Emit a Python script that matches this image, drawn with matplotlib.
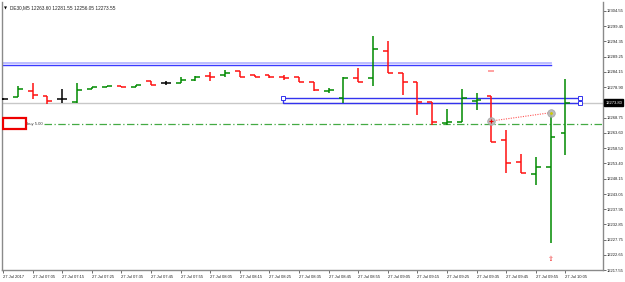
import matplotlib
matplotlib.use("Agg")
import matplotlib.pyplot as plt
from matplotlib.patches import Rectangle
from matplotlib.transforms import blended_transform_factory

# ---------------- data ----------------
times = ["06:55", "07:00", "07:05", "07:10", "07:15", "07:20", "07:25", "07:30", "07:35", "07:40",
         "07:45", "07:50", "07:55", "08:00", "08:05", "08:10", "08:15", "08:20", "08:25", "08:30",
         "08:35", "08:40", "08:45", "08:50", "08:55", "09:00", "09:05", "09:10", "09:15", "09:20",
         "09:25", "09:30", "09:35", "09:40", "09:45", "09:50", "09:55", "10:00", "10:05"]
opens = [12274.89, 12275.56, 12277.78, 12276.00, 12274.89, 12274.08, 12278.25, 12278.92, 12279.36, 12279.12,
         12280.94, 12280.37, 12280.26, 12281.37, 12282.72, 12283.05, 12284.50, 12283.05, 12283.05, 12282.48,
         12282.28, 12280.70, 12277.78, 12275.23, 12282.15, 12281.94, 12291.21, 12283.82, 12280.60, 12273.88,
         12267.03, 12267.37, 12274.42, 12276.00, 12261.22, 12253.93, 12249.80, 12252.25, 12263.60]
highs = [12275.30, 12279.36, 12280.47, 12276.00, 12278.25, 12280.26, 12279.12, 12279.36, 12279.36, 12279.59,
         12280.94, 12281.14, 12282.28, 12282.72, 12284.16, 12284.73, 12284.50, 12283.05, 12283.05, 12283.05,
         12282.28, 12280.70, 12278.58, 12282.48, 12285.30, 12296.15, 12294.47, 12283.82, 12280.60, 12274.08,
         12271.53, 12278.25, 12277.00, 12276.00, 12264.58, 12256.41, 12255.61, 12270.39, 12281.55]
lows = [12274.50, 12275.56, 12274.89, 12273.31, 12273.75, 12273.75, 12278.25, 12278.92, 12278.92, 12279.12,
        12279.69, 12279.59, 12280.26, 12281.14, 12281.14, 12282.48, 12282.28, 12282.48, 12281.94, 12281.37,
        12280.70, 12277.78, 12276.91, 12273.55, 12280.80, 12279.36, 12283.82, 12276.33, 12269.62, 12266.26,
        12266.26, 12267.37, 12271.30, 12260.65, 12250.23, 12250.23, 12246.10, 12226.52, 12256.05]
closes = [12274.89, 12278.25, 12276.33, 12274.42, 12274.89, 12278.01, 12279.12, 12279.36, 12278.92, 12279.59,
          12279.69, 12280.37, 12281.37, 12282.28, 12282.48, 12283.62, 12282.28, 12282.48, 12282.28, 12281.94,
          12280.70, 12278.01, 12277.91, 12281.94, 12280.80, 12291.79, 12283.82, 12280.60, 12273.88, 12267.37,
          12267.16, 12275.23, 12274.65, 12260.65, 12253.59, 12250.23, 12252.05, 12262.33, 12273.55]

price_ticks = [12304.55, 12299.45, 12294.35, 12289.25, 12284.15, 12278.90, 12268.75, 12263.60,
               12258.50, 12253.40, 12248.15, 12243.05, 12237.95, 12232.85, 12227.75, 12222.65, 12217.55]
bid_price = 12273.80
symbol_header = "DE30,M5 12263.60 12281.55 12256.05 12273.55"

buy_line_price = 12266.49
buy_label = "buy 5.00"
zone1_top, zone1_bottom, zone1_end = 12287.08, 12286.31, 37.0
zone2_top, zone2_bottom, zone2_start, zone2_end = 12275.43, 12273.55, 18.9, 39.0
trade_idx = [33, 37]
trade_prices = [12267.60, 12270.39]
marker_pink = (33, 12284.50)
arrow_up = (37, 12221.15)

# ---------------- figure ----------------
W, H = 625, 282
fig = plt.figure(figsize=(W / 100, H / 100), dpi=100)
fig.patch.set_facecolor("white")
L, R, T, B = 2, 603, 2, 270
ax = fig.add_axes([L / W, 1 - B / H, (R - L) / W, (B - T) / H])
ax.set_facecolor("white")

FONT = ["Liberation Sans", "DejaVu Sans"]
FS = 3.0

n = len(times)
w = 0.33
for i in range(n):
    o, h, l, c = opens[i], highs[i], lows[i], closes[i]
    if c > o:
        col = "#008a00"
    elif c < o:
        col = "#ff1010"
    else:
        col = "#000000"
    ax.plot([i, i], [l, h], color=col, lw=1.1, solid_capstyle="butt", zorder=3)
    ax.plot([i - w, i], [o, o], color=col, lw=1.1, solid_capstyle="butt", zorder=3)
    ax.plot([i, i + w], [c, c], color=col, lw=1.1, solid_capstyle="butt", zorder=3)

xmin, xmax = -0.07, 40.54
ax.set_xlim(xmin, xmax)
ax.set_ylim(12217.55, 12307.57)

# bid line
ax.axhline(bid_price, color="#c8c8c8", lw=1.0, zorder=1)

# zone 1 (double blue line)
ax.plot([xmin, zone1_end], [zone1_top, zone1_top], color="#b8b8ff", lw=1.3, zorder=2)
ax.plot([xmin, zone1_end], [zone1_bottom, zone1_bottom], color="#3a3aff", lw=1.0, zorder=2)

# zone 2 rectangle
ax.add_patch(Rectangle((zone2_start, zone2_bottom), zone2_end - zone2_start, zone2_top - zone2_bottom,
                       fill=False, edgecolor="#3333ee", lw=1.0, zorder=2))
for xx in (zone2_start, zone2_end):
    ax.plot([xx], [zone2_top], marker="s", ms=2.2, mfc="white", mec="#3333ee", mew=0.7, zorder=4)
ax.plot([zone2_end], [zone2_bottom], marker="s", ms=2.2, mfc="white", mec="#3333ee", mew=0.7, zorder=4)

# buy line
ax.plot([2.75, xmax], [buy_line_price, buy_line_price], color="#44aa44", lw=0.9,
        linestyle=(0, (6, 2, 1, 2)), zorder=2)
ax.text(1.62, buy_line_price, buy_label, fontsize=FS, family=FONT, color="#333333",
        va="center", ha="left", zorder=5)
ax.add_patch(Rectangle((0.02, 12304.55 - (129.3 - 11) / 2.977), 1.5, 11 / 2.977,
                       facecolor="white", edgecolor="#ee0000", lw=1.6, zorder=6))

# trade history
ax.plot(trade_idx, trade_prices, color="#ff5555", lw=0.8, linestyle=(0, (1, 1.2)), zorder=4)
ax.plot(trade_idx, trade_prices, linestyle="none", marker="o", ms=5.5, mfc="#b4b4b4",
        mec="#a0a0a0", mew=0.5, zorder=5, alpha=0.9)
ax.plot([trade_idx[0]], [trade_prices[0]], marker="+", ms=2.5, color="#ee0000", mew=0.8, zorder=6)
ax.plot([trade_idx[1]], [trade_prices[1]], marker=".", ms=2, color="#cccc00", zorder=6)

ax.plot([marker_pink[0]], [marker_pink[1]], marker="_", ms=4, color="#ff9a9a", mew=1.3, zorder=4)
ax.text(arrow_up[0], arrow_up[1], "⇧", fontsize=5, family=["DejaVu Sans"], color="#ee2222",
        ha="center", va="center", zorder=5)

# header
ax.text(0.004, 0.977, "▼", transform=ax.transAxes, fontsize=2.8, family=["DejaVu Sans"],
        color="black", ha="left", va="center")
ax.text(0.014, 0.977, symbol_header, transform=ax.transAxes, fontsize=3.4, family=FONT,
        color="#222222", ha="left", va="center")

# axes styling
ax.spines["top"].set_visible(False)
for s in ("left", "bottom", "right"):
    ax.spines[s].set_color("#8a8a8a")
    ax.spines[s].set_linewidth(1.0)

ax.yaxis.tick_right()
ax.set_yticks(price_ticks)
ax.set_yticklabels([f"{p:.2f}" for p in price_ticks], fontsize=FS, family=FONT, color="#222222")
ax.tick_params(axis="y", length=2, width=0.6, pad=1, colors="#555555", labelcolor="#222222")

xt = list(range(0, n, 2))
xl = ["27 Jul 2017" if i == 0 else "27 Jul " + times[i] for i in xt]
ax.set_xticks(xt)
ax.set_xticklabels(xl, fontsize=FS, family=FONT, color="#222222")
for lab in ax.get_xticklabels():
    lab.set_ha("left")
ax.tick_params(axis="x", length=2, width=0.6, pad=1.5, colors="#555555", labelcolor="#222222")

# current price label
tr = blended_transform_factory(ax.transAxes, ax.transData)
ax.text(1.004, bid_price, f"{bid_price:.2f}", transform=tr, fontsize=FS, family=FONT,
        color="white", ha="left", va="center", zorder=10,
        bbox=dict(boxstyle="square,pad=0.25", facecolor="black", edgecolor="black"), clip_on=False)

fig.savefig("out.png", dpi=100, facecolor="white")
